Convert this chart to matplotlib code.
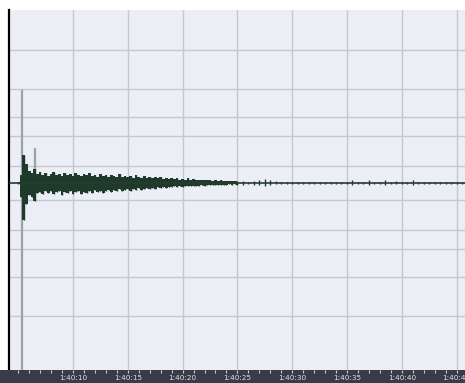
import numpy as np
import matplotlib
matplotlib.use("Agg")
import matplotlib.pyplot as plt

# Time axis (seconds counted from 1:40:00 -> 6000 s)
tick_times = [6010, 6015, 6020, 6025, 6030, 6035, 6040, 6045]
tick_labels = ["1:40:10", "1:40:15", "1:40:20", "1:40:25",
               "1:40:30", "1:40:35", "1:40:40", "1:40:45"]

# Horizontal level lines (fraction of full scale)
level_lines = [0.098, 0.272, 0.382, 0.543, 0.769]

# Waveform envelope, in percent of full scale
# first part: one value every 0.25 s from 6005.0 s
upper_a = [0.6, 4.5, 16.2, 11, 7, 5.8, 8, 5.2, 6.4, 4.6,
           5.8, 4.0, 5.2, 6.4, 4.6, 5.2, 4.0, 5.8, 4.6, 5.2,
           4.0, 5.8, 4.6, 4.0, 5.2, 4.6, 5.8, 4.0, 4.6, 3.5,
           5.2, 4.0, 4.6, 3.5, 4.6, 4.0, 3.5, 5.2, 3.5, 4.0,
           3.5, 4.0, 3.0, 4.6, 3.5, 3.0, 4.0, 3.0, 3.5, 2.9,
           3.5, 2.9, 3.5, 2.3, 3.0, 2.3, 2.9, 2.3, 2.9, 2.0,
           2.5, 2.0, 2.6, 1.7, 2.3, 1.7, 2.0, 1.5, 2.0, 1.5,
           1.7, 1.2, 1.5, 1.2, 1.5, 1.0, 1.2, 1.0, 1.2, 0.9,
           1.0]
lower_a = [-0.6, -8, -21.4, -12, -7, -8, -10.4, -6, -5.2, -6.4,
           -4.6, -5.8, -4.6, -6.4, -5.2, -4.6, -6.9, -5.2, -5.8, -4.6,
           -6.4, -5.2, -4.6, -6.4, -5.2, -5.8, -4.6, -5.8, -4.0, -5.2,
           -4.6, -5.8, -4.6, -4.0, -5.2, -4.0, -4.6, -3.5, -4.6, -4.0,
           -3.5, -4.6, -3.5, -4.0, -3.0, -4.0, -3.5, -2.9, -3.5, -3.0,
           -3.5, -2.6, -3.0, -2.3, -2.9, -2.3, -2.6, -2.0, -2.3, -2.0,
           -2.3, -1.7, -2.0, -1.5, -1.7, -1.5, -1.7, -1.2, -1.5, -1.2,
           -1.4, -1.0, -1.2, -1.0, -1.2, -0.9, -1.0, -0.8, -1.0, -0.8,
           -0.9]
# second part: one value every 0.5 s from 6025.5 s
upper_b = [0.9, 0.8, 1.2, 2.0, 2.3, 1.5, 1.0, 0.8, 0.7, 0.7,
           0.7, 0.6, 0.7, 0.6, 0.7, 0.6, 0.7, 0.6, 0.7, 0.6,
           1.7, 0.6, 0.7, 1.5, 0.6, 0.7, 1.7, 0.6, 1.2, 0.6,
           0.6, 1.5, 0.6, 0.6, 0.6, 0.6, 0.6, 0.6, 0.6, 0.6, 0.6]
lower_b = [-0.9, -0.8, -1.0, -1.2, -1.5, -1.0, -0.8, -0.7, -0.7, -0.7,
           -0.6, -0.6, -0.6, -0.6, -0.6, -0.6, -0.6, -0.6, -0.6, -0.6,
           -0.9, -0.6, -0.6, -0.9, -0.6, -0.6, -1.0, -0.6, -0.8, -0.6,
           -0.6, -0.9, -0.6, -0.6, -0.6, -0.6, -0.6, -0.6, -0.6, -0.6, -0.6]

# Gray marker lines (time, top, bottom) in fraction of full scale
marker_times = [6005.35, 6006.55]
marker_tops = [0.54, 0.20]
marker_bottoms = [-1.1, -0.10]

WAVE = "#1d3a2b"


def main():
    fig = plt.figure(figsize=(4.65, 3.83), dpi=100, facecolor="white")

    # main waveform area
    ax = fig.add_axes([9 / 465, 13 / 383, 456 / 465, 360 / 383])
    ax.set_facecolor("#eceef5")
    ax.set_xlim(6004.16, 6045.77)
    ax.set_ylim(-1.081, 1.0)

    # grid lines
    for t in tick_times:
        ax.axvline(t, color="#c4c8cf", lw=1.0, zorder=1)
    for lv in level_lines:
        ax.axhline(lv, color="#c4c8cf", lw=1.0, zorder=1)
        ax.axhline(-lv, color="#c4c8cf", lw=1.0, zorder=1)

    # gray markers behind the wave
    ax.vlines(marker_times, marker_bottoms, marker_tops, color="#9da1a8", lw=1.6, zorder=2)

    # waveform: dense part as stepped blocks, quiet tail as thin spikes
    t_a = 6005.0 + 0.25 * np.arange(len(upper_a))
    t_b = 6025.5 + 0.5 * np.arange(len(upper_b))
    up_a = np.array(upper_a) / 100
    lo_a = np.array(lower_a) / 100
    ax.fill_between(t_a, lo_a, up_a, step="mid", color=WAVE, lw=0, zorder=3)
    ax.vlines(t_a, lo_a, up_a, color=WAVE, lw=1.0, zorder=3)
    ax.vlines(t_b, np.array(lower_b) / 100, np.array(upper_b) / 100,
              color=WAVE, lw=1.0, zorder=3)
    ax.axhline(0, color="#2a3a32", lw=1.2, zorder=3)

    ax.set_xticks([])
    ax.set_yticks([])
    for side in ["top", "right", "bottom"]:
        ax.spines[side].set_visible(False)
    ax.spines["left"].set_color("black")
    ax.spines["left"].set_linewidth(1.6)

    # dark time ruler at the bottom
    bar = fig.add_axes([0, 0, 1, 13 / 383])
    bar.set_facecolor("#373c48")
    bar.set_xlim(6004.16 - 9 / 10.96, 6045.77)
    bar.set_ylim(0, 1)
    bar.set_xticks(np.arange(6005, 6046, 1))
    bar.tick_params(axis="x", top=True, bottom=False, labelbottom=False,
                    direction="in", length=2.5, width=0.8, color="#c8ccd6")
    bar.set_yticks([])
    for side in bar.spines:
        bar.spines[side].set_visible(False)
    for t, lab in zip(tick_times, tick_labels):
        bar.text(t, 0.38, lab, ha="center", va="center", fontsize=5.2,
                 color="#dfe2ea", family="DejaVu Sans")

    fig.savefig("out.png", dpi=100, facecolor="white")


if __name__ == "__main__":
    main()
